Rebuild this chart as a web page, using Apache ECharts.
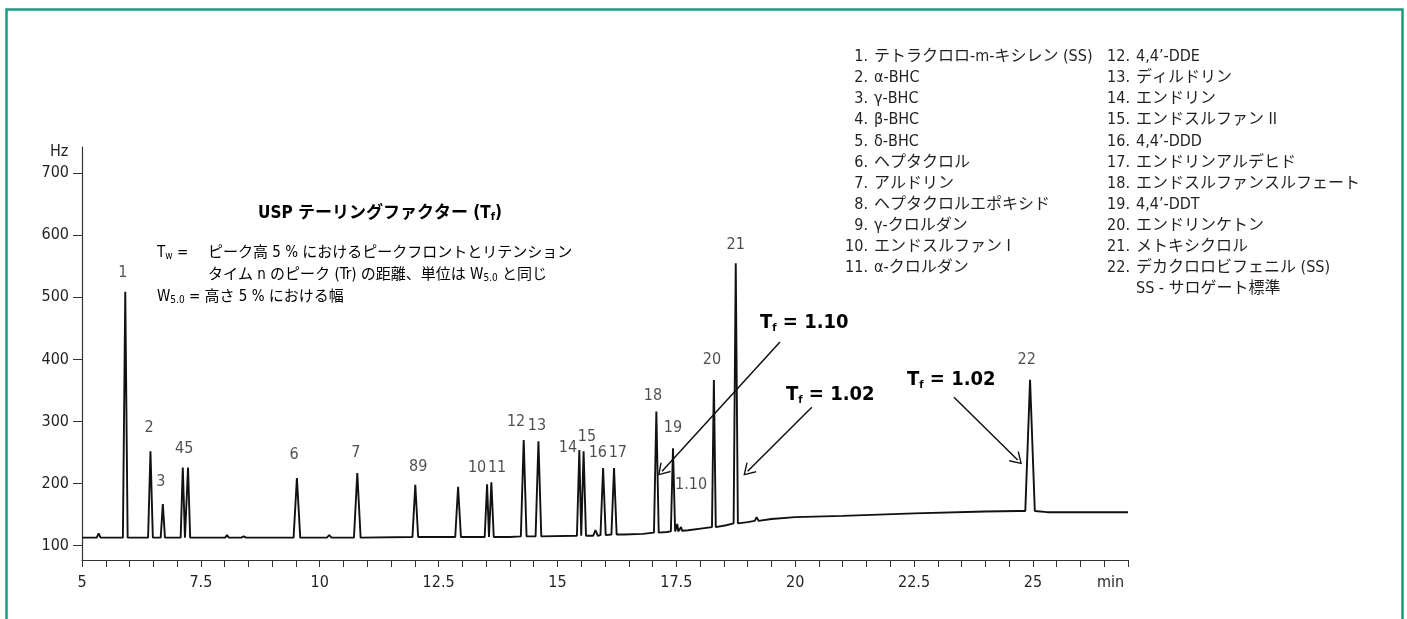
<!DOCTYPE html>
<html>
<head>
<meta charset="utf-8">
<script src="https://cdn.jsdelivr.net/npm/echarts@6/dist/echarts.min.js"></script>
<style>
html,body{margin:0;padding:0;background:#fff;}
#container{width:1407px;height:619px;}
</style>
</head>
<body>
<div id="container"></div>
<script>
// peaks: retention time (min), apex height (Hz), base level, half width at base
var peakTimes   = [5.91,6.44,6.70,7.12,7.23,9.52,10.79,12.01,12.91,13.52,13.61,14.29,14.60,15.46,15.55,15.96,16.19,17.08,17.43,18.29,18.75,24.94];
var peakHeights = [509,252,167,226,226,209,217,198,195,199,202,270,268,254,252,225,225,316,257,367,555,367];
var peakBase    = [113,113,113,113,113,113,113,114,114,114,114,115,115,116,116,117,118,121,123,130,136,156];
var peakHalfW   = [0.05,0.05,0.045,0.045,0.045,0.07,0.07,0.06,0.06,0.05,0.05,0.06,0.06,0.05,0.05,0.055,0.055,0.05,0.045,0.04,0.045,0.1];

// small bumps in the trace
var bumpTimes   = [5.35,8.05,8.4,10.2,15.8,17.52,17.6,19.19];
var bumpHeights = [120,117,115,117,125,135,130,146];
var bumpBase    = [113,113,113,113,116,123,124,140];
var bumpHalfW   = [0.04,0.04,0.05,0.05,0.05,0.02,0.02,0.04];

// baseline drift
var baseTimes  = [5,10,14,15.7,16.4,16.8,17.3,17.75,18.05,18.55,19.0,19.5,20,21,22.5,24,24.7,25.3,27];
var baseValues = [113,113,114,116,118,119,122,125,128,133,138,143,146,148,152,155,156,154,154];

// peak number labels [time, value, text]
var labelTimes  = [5.86,6.41,6.66,7.15,9.46,10.76,12.07,13.31,13.73,14.13,14.57,15.22,15.62,15.85,16.27,17.01,17.43,17.81,18.25,18.75,24.87];
var labelValues = [539,289,203,256,246,249,227,225,225,299,293,257,275,249,249,342,289,198,399,585,399];
var labelTexts  = ['1','2','3','45','6','7','89','10','11','12','13','14','15','16','17','18','19','1.10','20','21','22'];

var xTickVals  = [5,5.5,6,6.5,7,7.5,8,8.5,9,9.5,10,10.5,11,11.5,12,12.5,13,13.5,14,14.5,15,15.5,16,16.5,17,17.5,18,18.5,19,19.5,20,20.5,21,21.5,22,22.5,23,23.5,24,24.5,25,25.5,26,26.5,27];
var xLabelVals = [5,7.5,10,12.5,15,17.5,20,22.5,25];
var yLabelVals = [100,200,300,400,500,600,700];

var legendNames1 = ['テトラクロロ-m-キシレン (SS)','α-BHC','γ-BHC','β-BHC','δ-BHC','ヘプタクロル','アルドリン','ヘプタクロルエポキシド','γ-クロルダン','エンドスルファン I','α-クロルダン'];
var legendNames2 = ['4,4’-DDE','ディルドリン','エンドリン','エンドスルファン II','4,4’-DDD','エンドリンアルデヒド','エンドスルファンスルフェート','4,4’-DDT','エンドリンケトン','メトキシクロル','デカクロロビフェニル (SS)'];

// tailing factor arrows [fromTime, fromValue, toTime, toValue]
var arrows = [
  [19.68,428,17.20,220],
  [20.35,323,19.00,220],
  [23.34,339,24.68,238]
];

var FONT = '"Liberation Sans Narrow","DejaVu Sans Condensed","Noto Sans CJK JP",sans-serif';
var TXT = '#231f20';

var trace = [];
for (var i=0;i<baseTimes.length;i++) trace.push([baseTimes[i],baseValues[i]]);
for (var i=0;i<peakTimes.length;i++){
  trace.push([peakTimes[i]-peakHalfW[i],peakBase[i]]);
  trace.push([peakTimes[i],peakHeights[i]]);
  trace.push([peakTimes[i]+peakHalfW[i],peakBase[i]]);
}
for (var i=0;i<bumpTimes.length;i++){
  trace.push([bumpTimes[i]-bumpHalfW[i],bumpBase[i]]);
  trace.push([bumpTimes[i],bumpHeights[i]]);
  trace.push([bumpTimes[i]+bumpHalfW[i],bumpBase[i]]);
}
trace.sort(function(a,b){return a[0]-b[0];});

var labelData = [];
for (var i=0;i<labelTexts.length;i++) labelData.push([labelTimes[i],labelValues[i],labelTexts[i]]);

var arrowHead = 'path://M0,0 L10,14 L8.4,15.2 L0,3.2 L-8.4,15.2 L-10,14 Z';
var arrowData = [];
for (var i=0;i<arrows.length;i++){
  arrowData.push([
    {coord:[arrows[i][0],arrows[i][1]],symbol:'none'},
    {coord:[arrows[i][2],arrows[i][3]],symbol:arrowHead,symbolSize:[14,12]}
  ]);
}

var graphics = [];
// green frame
graphics.push({type:'rect',shape:{x:6.5,y:9.5,width:1396,height:700},style:{fill:'none',stroke:'#1d9a80',lineWidth:2.5},silent:true});
graphics.push({type:'text',x:50,y:152,style:{text:'Hz',font:'16px '+FONT,fill:TXT,verticalAlign:'middle'}});
graphics.push({type:'text',x:1097,y:583,style:{text:'min',font:'16px '+FONT,fill:TXT,verticalAlign:'middle'}});

// legend
for (var i=0;i<legendNames1.length;i++){
  graphics.push({type:'text',x:868,y:57+i*21.1,style:{text:(i+1)+'.',font:'16px '+FONT,fill:TXT,align:'right',verticalAlign:'middle'}});
  graphics.push({type:'text',x:874,y:57+i*21.1,style:{text:legendNames1[i],font:'16px '+FONT,fill:TXT,verticalAlign:'middle'}});
}
for (var i=0;i<legendNames2.length;i++){
  graphics.push({type:'text',x:1130,y:57+i*21.1,style:{text:(i+12)+'.',font:'16px '+FONT,fill:TXT,align:'right',verticalAlign:'middle'}});
  graphics.push({type:'text',x:1136,y:57+i*21.1,style:{text:legendNames2[i],font:'16px '+FONT,fill:TXT,verticalAlign:'middle'}});
}
graphics.push({type:'text',x:1136,y:57+11*21.1,style:{text:'SS - サロゲート標準',font:'16px '+FONT,fill:TXT,verticalAlign:'middle'}});

// title + definitions
var subRich = {
  n:{fontSize:15,fontFamily:FONT,color:TXT},
  s:{fontSize:10,fontFamily:FONT,color:TXT,padding:[6,0,0,0]},
  b:{fontSize:17,fontFamily:FONT,fontWeight:'bold',color:TXT},
  bs:{fontSize:11,fontFamily:FONT,fontWeight:'bold',color:TXT,padding:[7,0,0,0]},
  T:{fontSize:20,fontFamily:FONT,fontWeight:'bold',color:TXT},
  Ts:{fontSize:11,fontFamily:FONT,fontWeight:'bold',color:TXT,padding:[10,0,0,0]}
};
graphics.push({type:'text',x:258,y:214,style:{text:'{b|USP テーリングファクター (T}{bs|f}{b|)}',rich:subRich,verticalAlign:'middle'}});
graphics.push({type:'text',x:157,y:253,style:{text:'{n|T}{s|w}{n| =}',rich:subRich,verticalAlign:'middle'}});
graphics.push({type:'text',x:208,y:253,style:{text:'{n|ピーク高 5 % におけるピークフロントとリテンション}',rich:subRich,verticalAlign:'middle'}});
graphics.push({type:'text',x:208,y:275,style:{text:'{n|タイム n のピーク (Tr) の距離、単位は W}{s|5.0}{n| と同じ}',rich:subRich,verticalAlign:'middle'}});
graphics.push({type:'text',x:157,y:297,style:{text:'{n|W}{s|5.0}{n| = 高さ 5 % における幅}',rich:subRich,verticalAlign:'middle'}});

graphics.push({type:'text',x:760,y:323,style:{text:'{T|T}{Ts|f}{T| = 1.10}',rich:subRich,verticalAlign:'middle'}});
graphics.push({type:'text',x:786,y:395,style:{text:'{T|T}{Ts|f}{T| = 1.02}',rich:subRich,verticalAlign:'middle'}});
graphics.push({type:'text',x:907,y:380,style:{text:'{T|T}{Ts|f}{T| = 1.02}',rich:subRich,verticalAlign:'middle'}});

var dom = document.getElementById("container");
var myChart = echarts.init(dom);
var option = {
  backgroundColor:'#fff',
  animation:false,
  grid:{left:82,right:279,top:147,bottom:59},
  xAxis:{
    type:'value',min:5,max:27,
    axisLine:{lineStyle:{color:'#333',width:1.2}},
    axisTick:{customValues:xTickVals,length:7,lineStyle:{color:'#333'}},
    axisLabel:{customValues:xLabelVals,margin:15,fontSize:16,fontFamily:FONT,color:TXT},
    splitLine:{show:false}
  },
  yAxis:{
    type:'value',min:77,max:742,
    axisLine:{show:true,lineStyle:{color:'#333',width:1.2}},
    axisTick:{show:true,customValues:yLabelVals,length:9,lineStyle:{color:'#333'}},
    axisLabel:{customValues:yLabelVals,margin:13,fontSize:16,fontFamily:FONT,color:TXT},
    splitLine:{show:false}
  },
  series:[
    {
      type:'line',
      data:trace,
      symbol:'none',
      lineStyle:{color:'#111',width:1.9},
      z:3,
      markLine:{
        silent:true,
        animation:false,
        label:{show:false},
        lineStyle:{color:'#111',width:1.5,type:'solid'},
        data:arrowData
      }
    },
    {
      type:'scatter',
      data:labelData,
      symbolSize:0,
      silent:true,
      label:{show:true,position:'inside',formatter:function(p){return p.data[2];},fontSize:16,fontFamily:FONT,color:TXT}
    }
  ],
  graphic:graphics
};
if (option && typeof option === "object") {
  myChart.setOption(option, true);
}
</script>
</body>
</html>
